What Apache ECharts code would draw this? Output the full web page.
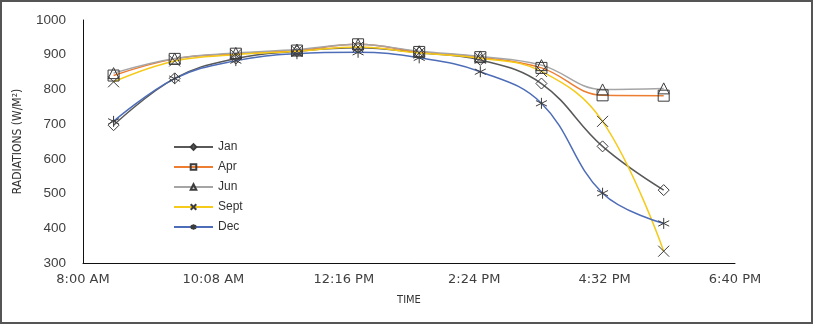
<!DOCTYPE html>
<html>
<head>
<meta charset="utf-8">
<script src="https://cdn.jsdelivr.net/npm/echarts@6/dist/echarts.min.js"></script>
<style>
  html, body { margin: 0; padding: 0; background: #fff; }
  #chart { width: 816px; height: 326px; }
</style>
</head>
<body>
<div id="chart"></div>
<script>
// readings every hour, x axis counted in minutes after 8:00 AM
const times = ['8:30', '9:30', '10:30', '11:30', '12:30', '13:30', '14:30', '15:30', '16:30', '17:30'];
const jan  = [697, 832, 889, 910, 920, 906, 885, 817, 636, 510];
const apr  = [840, 888, 903, 912, 930, 908, 893, 862, 783, 782];
const jun  = [847, 889, 905, 915, 930, 910, 895, 870, 800, 803];
const sept = [822, 882, 900, 910, 922, 905, 890, 852, 708, 334];
const dec  = [708, 831, 883, 903, 907, 891, 851, 760, 501, 414];
const tickLabels = ['8:00 AM', '10:08 AM', '12:16 PM', '2:24 PM', '4:32 PM', '6:40 PM'];

const startMin = 8 * 60;
function toX(t) {
  const p = t.split(':');
  return Number(p[0]) * 60 + Number(p[1]) - startMin;
}
function pts(vals) {
  return times.map(function (t, i) { return [toX(t), vals[i]]; });
}

const markerStyle = {
  color: 'rgba(255,255,255,0)',
  borderColor: '#3c3c3c',
  borderWidth: 1
};

function makeSeries(name, vals, color, symbol) {
  return {
    name: name,
    type: 'line',
    data: pts(vals),
    smooth: 0.4,
    symbol: symbol,
    symbolSize: 11,
    showAllSymbol: true,
    lineStyle: { width: 1.5, color: color },
    itemStyle: markerStyle,
    emphasis: { disabled: true }
  };
}

const chart = echarts.init(document.getElementById('chart'), null, { renderer: 'canvas' });

const option = {
  animation: false,
  backgroundColor: '#fff',
  grid: { left: 83, right: 81, top: 20, bottom: 63, outerBoundsMode: 'none' },
  legend: {
    orient: 'vertical',
    left: 173,
    top: 141,
    padding: 0,
    itemWidth: 39,
    itemHeight: 7,
    itemGap: 8,
    textStyle: { fontFamily: 'Liberation Sans', fontSize: 12, color: '#333' },
    data: ['Jan', 'Apr', 'Jun', 'Sept', 'Dec']
  },
  xAxis: {
    type: 'value',
    min: 0,
    max: 640,
    interval: 128,
    name: 'TIME',
    nameLocation: 'middle',
    nameGap: 32,
    nameTextStyle: { fontFamily: "'Liberation Sans Narrow', 'DejaVu Sans Condensed', sans-serif", fontSize: 11, color: '#333' },
    axisLine: { show: true, lineStyle: { color: '#111', width: 1 } },
    axisTick: { show: false },
    splitLine: { show: false },
    axisLabel: {
      margin: 10,
      fontFamily: 'DejaVu Sans',
      fontSize: 13,
      color: '#404040',
      formatter: function (v) { return tickLabels[Math.round(v / 128)]; }
    }
  },
  yAxis: {
    type: 'value',
    min: 300,
    max: 1000,
    interval: 100,
    name: 'RADIATIONS (W/M²)',
    nameLocation: 'middle',
    nameGap: 59,
    nameTextStyle: { fontFamily: "'Liberation Sans Narrow', 'DejaVu Sans Condensed', sans-serif", fontSize: 12, color: '#333' },
    axisLine: { show: true, lineStyle: { color: '#111', width: 1 } },
    axisTick: { show: false },
    splitLine: { show: false },
    axisLabel: {
      margin: 17,
      fontFamily: 'Liberation Sans',
      fontSize: 13.5,
      color: '#404040',
      formatter: function (v) { return String(v); }
    }
  },
  graphic: [{
    type: 'rect',
    silent: true,
    shape: { x: 1, y: 1, width: 811, height: 322 },
    style: { fill: null, stroke: '#555', lineWidth: 2 }
  }],
  series: [
    makeSeries('Jan', jan, '#595959', 'diamond'),
    makeSeries('Apr', apr, '#ED7D31', 'rect'),
    makeSeries('Jun', jun, '#A5A5A5', 'triangle'),
    makeSeries('Sept', sept, '#F5CA18', 'path://M0,0L10,10M10,0L0,10'),
    makeSeries('Dec', dec, '#4E6DB8', 'path://M5,0L5,10M0,2.5L10,7.5M0,7.5L10,2.5')
  ]
};

chart.setOption(option);
</script>
</body>
</html>
